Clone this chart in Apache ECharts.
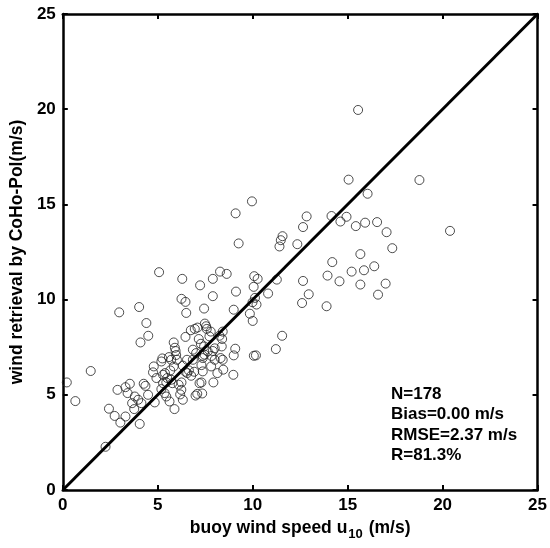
<!DOCTYPE html>
<html>
<head>
<meta charset="utf-8">
<title>wind retrieval scatter</title>
<script src="https://cdn.jsdelivr.net/npm/echarts@6/dist/echarts.min.js"></script>
<style>html,body{margin:0;padding:0;background:#fff;}</style>
</head>
<body>
<div id="chart" style="width:550px;height:548px;"></div>
<script>
// buoy u10 (x) and CoHo-Pol retrieval (y)
var buoyU10 = [
  0.21,0.66,1.47,2.25,2.43,2.73,3.03,3.30,4.05,2.88,3.30,3.53,3.41,3.79,3.65,3.76,3.97,4.14,4.26,4.35,4.49,4.84,2.97,4.02,4.40,4.50,4.09,4.75,4.79,4.93,
  5.07,5.19,5.36,5.45,5.62,5.88,5.71,6.10,6.24,6.32,6.55,6.76,7.08,7.20,5.28,5.24,5.59,5.84,5.90,5.94,5.97,6.01,5.66,5.84,5.38,5.45,5.77,6.25,6.18,6.32,
  6.46,6.64,6.92,7.30,7.37,7.90,8.00,7.44,6.74,6.95,7.09,7.48,7.58,7.79,8.25,8.42,8.39,6.46,7.16,7.27,6.85,7.02,6.54,8.42,8.00,6.29,7.23,7.90,8.28,8.63,
  9.12,7.90,6.25,6.46,7.44,6.50,9.00,9.85,10.00,10.06,9.08,9.00,8.98,8.45,7.81,8.14,8.31,7.93,7.30,7.34,6.99,7.83,7.55,7.63,7.37,
  7.72,8.37,5.71,5.19,5.50,5.28,6.85,7.46,7.37,
  9.96,9.10,9.26,11.57,11.48,11.41,12.35,12.65,12.84,15.55,15.05,18.78,16.05,20.39,14.15,14.62,14.94,15.43,15.92,16.55,
  17.05,17.35,15.67,14.19,13.94,15.21,15.86,16.40,14.57,15.67,17.00,16.60,12.65,12.95,12.60,13.89,11.27,10.81,11.55,
  10.08,10.26,10.05,10.12,9.99,10.20,11.22,10.17
];
var cohoWind = [
  5.65,4.67,6.25,2.27,4.27,3.89,3.54,3.86,3.47,5.26,5.40,5.58,5.09,4.91,4.56,4.25,4.74,4.56,5.58,5.47,5.00,4.60,9.33,9.61,8.77,8.10,7.75,6.18,6.49,5.88,
  11.44,5.30,5.09,4.91,4.65,4.25,5.79,5.53,5.26,4.74,6.14,6.00,5.05,5.61,6.05,6.91,6.98,7.75,7.47,7.30,7.09,6.84,6.28,6.49,6.14,5.65,5.61,5.65,5.02,6.53,
  6.21,6.28,6.21,6.56,7.05,7.30,7.44,7.54,8.39,8.46,8.53,8.74,8.46,8.32,8.10,8.32,7.93,8.04,7.93,7.68,7.37,7.19,6.84,6.84,6.84,11.09,10.75,11.09,11.47,11.35,
  10.42,10.18,10.04,9.88,9.53,9.30,9.47,9.26,8.88,7.05,7.42,7.07,6.05,6.32,6.49,6.14,6.93,5.65,5.65,5.07,4.96,7.04,8.60,7.28,6.23,
  8.07,7.54,6.84,6.75,5.88,5.61,6.84,7.11,6.93,
  15.16,14.53,12.95,13.33,13.12,12.79,12.91,13.81,14.37,19.96,16.30,16.28,15.56,13.61,14.39,14.10,14.35,13.86,14.04,14.07,
  13.54,12.70,12.39,11.97,11.26,11.47,11.54,11.75,10.96,10.79,10.84,10.26,10.98,10.28,9.82,9.65,11.05,10.32,8.10,
  11.23,11.09,10.67,10.09,9.86,9.74,7.40,7.07
];
var axisTicks = [0, 5, 10, 15, 20, 25];
var statLines = ['N=178', 'Bias=0.00 m/s', 'RMSE=2.37 m/s', 'R=81.3%'];

var pts = [];
for (var i = 0; i < buoyU10.length; i++) pts.push([buoyU10[i], cohoWind[i]]);
var lo = axisTicks[0], hi = axisTicks[axisTicks.length - 1];

var font = 'Arial, "Liberation Sans", sans-serif';
function mkAxis(pos, showLabel, extra) {
  var a = {
    type: 'value', position: pos, min: lo, max: hi, interval: 5,
    axisLine: {show: true, onZero: false, lineStyle: {color: '#000', width: 2.5}},
    axisTick: {show: true, inside: true, length: 5, lineStyle: {color: '#000', width: 2}},
    axisLabel: {show: showLabel, color: '#000', fontSize: 17, fontWeight: 'bold', fontFamily: font, margin: 7},
    splitLine: {show: false}
  };
  for (var k in extra) a[k] = extra[k];
  return a;
}

var chart = echarts.init(document.getElementById('chart'), null, {renderer: 'canvas'});
chart.setOption({
  animation: false,
  backgroundColor: '#fff',
  grid: {left: 61, right: 12, top: 14, bottom: 58, containLabel: false},
  xAxis: [
    mkAxis('bottom', true, {
      name: '{n|buoy wind speed u}{s|10}{n| (m/s)}',
      nameLocation: 'middle', nameGap: 29,
      nameTextStyle: {
        rich: {
          n: {fontSize: 17.5, fontWeight: 'bold', fontFamily: font, color: '#000', lineHeight: 21, verticalAlign: 'top'},
          s: {fontSize: 13, fontWeight: 'bold', fontFamily: font, color: '#000', padding: [9, 1, 0, 1], verticalAlign: 'top'}
        }
      }
    }),
    mkAxis('top', false, {})
  ],
  yAxis: [
    mkAxis('left', true, {
      name: 'wind retrieval by CoHo-Pol(m/s)',
      nameLocation: 'middle', nameGap: 27,
      nameTextStyle: {fontSize: 17.5, fontWeight: 'bold', fontFamily: font, color: '#000'}
    }),
    mkAxis('right', false, {})
  ],
  series: [
    {
      type: 'scatter', data: pts, symbol: 'circle', symbolSize: 9,
      itemStyle: {color: 'rgba(0,0,0,0)', borderColor: '#222', borderWidth: 1},
      z: 2
    },
    {
      type: 'line', data: [[lo, lo], [hi, hi]], showSymbol: false, symbol: 'none',
      lineStyle: {color: '#000', width: 3}, z: 3, silent: true
    }
  ],
  graphic: [{
    type: 'text', left: 391, top: 384,
    style: {text: statLines.join('\n'), font: 'bold 17px ' + font, fill: '#000', lineHeight: 20.5}
  }]
});
</script>
</body>
</html>
